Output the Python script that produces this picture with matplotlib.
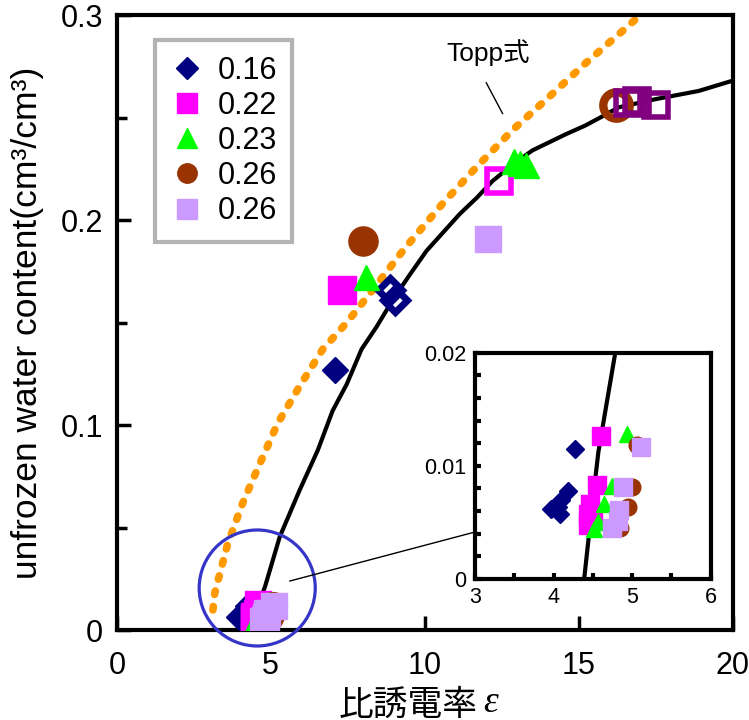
import matplotlib
matplotlib.use('Agg')
import matplotlib.pyplot as plt
from matplotlib.lines import Line2D
from matplotlib.patches import Ellipse

plt.rcParams['font.family'] = ['Liberation Sans', 'Noto Sans CJK JP', 'DejaVu Sans']

# ---- datos ----
# curva calculada (negra)
curva_x = [4.39, 4.49, 4.57, 4.67, 4.81, 5.29, 5.94, 6.53, 7.01, 7.47, 7.95, 8.44, 8.96,
           9.5, 10.06, 10.6, 11.14, 11.7, 12.2, 12.85, 13.5, 14.6, 15.2, 15.7, 16.3,
           17.5, 18.9, 20.0]
curva_y = [0.0, 0.0064, 0.0112, 0.0153, 0.021, 0.0454, 0.0683, 0.0878, 0.107, 0.120, 0.137,
           0.148, 0.161, 0.173, 0.185, 0.194, 0.203, 0.211, 0.219, 0.227, 0.234, 0.242,
           0.246, 0.250, 0.255, 0.259, 0.263, 0.268]
# Topp式 (naranja)
topp_x = [3.12, 3.18, 3.6, 4.09, 4.64, 5.23, 5.94, 6.69, 7.47, 8.21, 9.29, 9.51, 10.58,
          11.69, 12.86, 13.96, 15.26, 16.56, 17.0]
topp_y = [0.0098, 0.018, 0.042, 0.062, 0.081, 0.101, 0.119, 0.137, 0.150, 0.164, 0.185,
          0.189, 0.208, 0.226, 0.244, 0.259, 0.277, 0.294, 0.300]

# puntos cerca del origen (también en el recuadro)
s016_x = [4.27, 4.18, 4.10, 4.06, 3.97, 4.08]
s016_y = [0.0115, 0.0078, 0.0070, 0.0064, 0.0062, 0.0057]
s022_x = [4.60, 4.55, 4.47, 4.44, 4.44, 4.50]
s022_y = [0.0126, 0.0083, 0.0066, 0.0057, 0.0048, 0.0051]
s023_x = [4.94, 4.74, 4.64, 4.57, 4.52]
s023_y = [0.0128, 0.0082, 0.0066, 0.0050, 0.0044]
s026a_x = [5.06, 5.00, 4.95, 4.84]
s026a_y = [0.0118, 0.0081, 0.0064, 0.0045]
s026b_x = [5.11, 4.88, 4.83, 4.82, 4.75]
s026b_y = [0.0117, 0.0081, 0.0061, 0.0051, 0.0045]

# puntos grandes del gráfico principal
p016_x = [7.08]
p016_y = [0.127]
p016h_x = [8.86, 9.03]
p016h_y = [0.166, 0.161]
p022_x = [7.3]
p022_y = [0.166]
p022h_x = [12.4]
p022h_y = [0.219]
p023_x = [8.08, 12.9, 13.1, 13.3]
p023_y = [0.172, 0.229, 0.228, 0.227]
p026a_x = [7.99]
p026a_y = [0.190]
p026ah_x = [16.2]
p026ah_y = [0.256]
p026b_x = [12.05]
p026b_y = [0.191]
pmor_x = [16.6, 16.9, 17.5]
pmor_y = [0.257, 0.258, 0.256]

etiquetas = ['0.16', '0.22', '0.23', '0.26', '0.26']

navy = '#000080'
magenta = '#ff00ff'
verde = '#00ff00'
marron = '#993300'
lila = '#cc99ff'
morado = '#800080'
naranja = '#ff9900'
azul = '#3535c8'

fig = plt.figure(figsize=(7.49, 7.2), dpi=100)
ax = fig.add_axes([0.156, 0.125, 0.822, 0.854])

ax.plot(topp_x, topp_y, color=naranja, lw=5.5, linestyle=(0, (0.45, 1.6)),
        dash_capstyle='round', zorder=2)
ax.plot(curva_x, curva_y, color='black', lw=3, zorder=3)

# puntos del origen, tamaño grande
ax.plot(s016_x, s016_y, 'D', ms=13, color=navy, mec=navy, zorder=4)
ax.plot(s022_x, s022_y, 's', ms=19, color=magenta, mec=magenta, zorder=4)
ax.plot(s023_x, s023_y, '^', ms=18, color=verde, mec=verde, zorder=4)
ax.plot(s026a_x, s026a_y, 'o', ms=20, color=marron, mec=marron, zorder=4)
ax.plot(s026b_x, s026b_y, 's', ms=19, color=lila, mec=lila, zorder=4)

ax.plot(p016_x, p016_y, 'D', ms=13, color=navy, zorder=4)
ax.plot(p016h_x, p016h_y, 'D', ms=12, mfc='none', mec=navy, mew=5, zorder=4)
ax.plot(p022_x, p022_y, 's', ms=20, color=magenta, zorder=4)
ax.plot(p022h_x, p022h_y, 's', ms=17, mfc='none', mec=magenta, mew=4, zorder=4)
ax.plot(p023_x, p023_y, '^', ms=18, color=verde, zorder=4)
ax.plot(p026a_x, p026a_y, 'o', ms=21, color=marron, zorder=4)
ax.plot(p026ah_x, p026ah_y, 'o', ms=19, mfc='none', mec=marron, mew=6, zorder=4)
ax.plot(p026b_x, p026b_y, 's', ms=19, color=lila, zorder=4)
ax.plot(pmor_x, pmor_y, 's', ms=17, mfc='none', mec=morado, mew=4, zorder=5)

# círculo y línea hacia el recuadro
ax.add_patch(Ellipse((4.56, 0.0205), 3.77, 0.0566, fill=False, edgecolor=azul,
                     lw=2.3, clip_on=False, zorder=6))
ax.plot([5.62, 14.7], [0.0239, 0.0600], color='black', lw=1, clip_on=False, zorder=6)

# anotación Topp式
ax.plot([12.0, 12.53], [0.267, 0.252], color='black', lw=1, zorder=6)
ax.text(12.05, 0.2815, 'Topp式', fontsize=19, ha='center', va='center')

ax.set_xlim(0, 20)
ax.set_ylim(0, 0.3)
ax.set_xticks([0, 5, 10, 15, 20])
ax.set_xticklabels(['0', '5', '10', '15', '20'])
ax.set_yticks([0, 0.1, 0.2, 0.3])
ax.set_yticklabels(['0', '0.1', '0.2', '0.3'])
ax.set_yticks([0.05, 0.15, 0.25], minor=True)
ax.tick_params(axis='both', which='major', direction='in', length=10, width=2.5,
               labelsize=22)
ax.tick_params(axis='x', which='major', pad=15)
ax.tick_params(axis='y', which='major', pad=10)
ax.tick_params(axis='y', which='minor', direction='in', length=7, width=2.5)
for s in ax.spines.values():
    s.set_linewidth(3)

ax.set_ylabel('unfrozen water content(cm³/cm³)', fontsize=25.5)
ax.yaxis.set_label_coords(-0.118, 0.5)
ax.set_xlabel('比誘電率', fontsize=25)
ax.xaxis.set_label_coords(0.473, -0.095)
fig.text(491 / 749, 1 - 703 / 720, 'ε', fontsize=27, family='Liberation Serif',
         style='italic', ha='center', va='center')

# leyenda
manejadores = [
    Line2D([], [], ls='none', marker='D', ms=11, color=navy),
    Line2D([], [], ls='none', marker='s', ms=14, color=magenta),
    Line2D([], [], ls='none', marker='^', ms=14, color=verde),
    Line2D([], [], ls='none', marker='o', ms=14, color=marron),
    Line2D([], [], ls='none', marker='s', ms=14, color=lila),
]
leg = ax.legend(manejadores, etiquetas, loc='upper left', bbox_to_anchor=(0.062, 0.959),
                fontsize=22, frameon=True, fancybox=False, framealpha=1,
                edgecolor='#b3b3b3', borderpad=0.5, labelspacing=0.17,
                handlelength=1.1, handletextpad=0.45, borderaxespad=0)
leg.get_frame().set_linewidth(3)

# recuadro ampliado
axin = fig.add_axes([0.634, 0.196, 0.315, 0.314])
axin.plot(curva_x, curva_y, color='black', lw=3, zorder=3)
axin.plot(s016_x, s016_y, 'D', ms=9, color=navy, zorder=4)
axin.plot(s022_x, s022_y, 's', ms=13, color=magenta, zorder=4)
axin.plot(s023_x, s023_y, '^', ms=12, color=verde, zorder=4)
axin.plot(s026a_x, s026a_y, 'o', ms=12, color=marron, zorder=4)
axin.plot(s026b_x, s026b_y, 's', ms=13, color=lila, zorder=4)
axin.set_xlim(3, 6)
axin.set_ylim(0, 0.02)
axin.set_xticks([3, 3.5, 4, 4.5, 5, 5.5, 6])
axin.set_xticklabels(['3', '', '4', '', '5', '', '6'])
axin.set_yticks([0, 0.002, 0.004, 0.006, 0.008, 0.01, 0.012, 0.014, 0.016, 0.018, 0.02])
axin.set_yticklabels(['0', '', '', '', '', '0.01', '', '', '', '', '0.02'])
axin.tick_params(direction='in', length=4, width=3, labelsize=15.5, pad=6)
for s in axin.spines.values():
    s.set_linewidth(3)

fig.savefig('out.png', dpi=100)
